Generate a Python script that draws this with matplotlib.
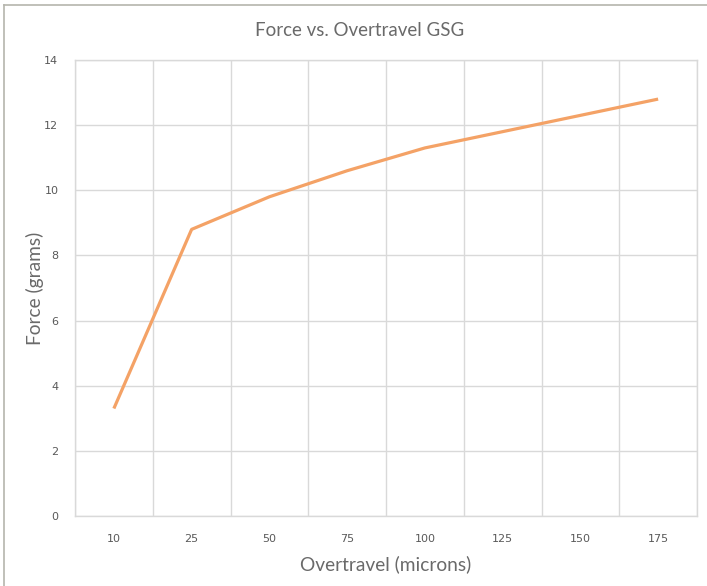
import matplotlib
matplotlib.use("Agg")
import matplotlib.pyplot as plt
from matplotlib.lines import Line2D

# data
overtravel = ["10", "25", "50", "75", "100", "125", "150", "175"]
force = [3.3, 8.8, 9.8, 10.6, 11.3, 11.8, 12.3, 12.8]
y_ticks = [0, 2, 4, 6, 8, 10, 12, 14]

txt = "#595959"
grid = "#d9d9d9"

W, H = 707, 586
fig = plt.figure(figsize=(W / 100, H / 100), dpi=100)
ax = fig.add_axes([75 / W, (H - 516) / H, (697 - 75) / W, (516 - 60) / H])

x = list(range(len(overtravel)))
ax.plot(x, force, color="#F4A266", linewidth=2.3, solid_capstyle="butt")

ax.set_xlim(-0.5, len(overtravel) - 0.5)
ax.set_ylim(0, 14)
ax.set_yticks(y_ticks)
ax.set_xticks(x)
ax.set_xticklabels(overtravel)

# gridlines between the categories, like Excel
ax.set_xticks([i - 0.5 for i in range(len(overtravel) + 1)], minor=True)
ax.grid(True, which="minor", axis="x", color=grid, linewidth=1)
ax.grid(True, which="major", axis="y", color=grid, linewidth=1)
ax.set_axisbelow(True)
for s in ax.spines.values():
    s.set_color(grid)
    s.set_linewidth(1)

ax.tick_params(axis="both", which="both", length=0, labelsize=8, labelcolor=txt)
ax.tick_params(axis="x", pad=13)
ax.tick_params(axis="y", pad=12)

ax.set_xlabel("Overtravel (microns)", fontsize=13.8, color="#6a6a6a", family="Lato", labelpad=8)
ax.set_ylabel("Force (grams)", fontsize=13.8, color="#6a6a6a", family="Lato", labelpad=0)
fig.text(360 / W, 1 - 30 / H, "Force vs. Overtravel GSG", ha="center", va="center",
         fontsize=13.5, color="#6a6a6a", family="Lato")

# thin frame at top and left of the picture
fig.add_artist(Line2D([4 / W, 1], [1 - 5 / H, 1 - 5 / H], color="#b5b5ad", linewidth=1.2))
fig.add_artist(Line2D([4 / W, 4 / W], [0, 1 - 5 / H], color="#b5b5ad", linewidth=1.2))

fig.savefig("out.png", dpi=100)
